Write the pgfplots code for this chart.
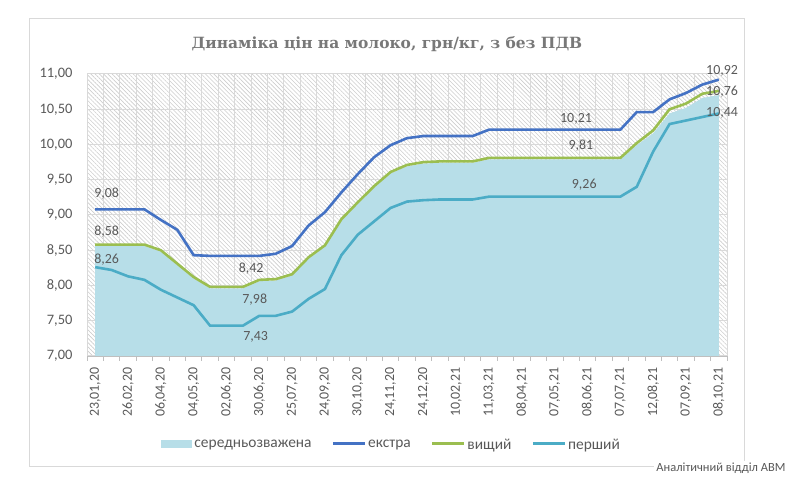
\documentclass[border=0pt]{standalone}
\usepackage{fontspec}
\setmainfont{Carlito}
\newfontfamily\titlefont{DejaVu Serif}
\usepackage{pgfplots}
\usepackage{pgfplotstable}
\pgfplotsset{compat=1.18}
\usetikzlibrary{patterns.meta}

\definecolor{cExtra}{RGB}{68,114,196}
\definecolor{cVys}{RGB}{155,190,80}
\definecolor{cPer}{RGB}{75,172,198}
\definecolor{cArea}{RGB}{183,222,232}
\definecolor{cGrid}{RGB}{217,217,217}
\definecolor{cHatch}{RGB}{205,205,205}
\definecolor{cText}{RGB}{89,89,89}
\definecolor{cTitle}{RGB}{120,120,120}
\definecolor{cAxis}{RGB}{191,191,191}

\pgfplotsset{
  arealeg/.style={legend image code/.code={\fill[##1] (0bp,-3bp) rectangle (31bp,5bp);}},
  lineleg/.style={legend image code/.code={\draw[##1] (0bp,1bp) -- (32bp,1bp);}},
}

\pgfplotstableread{
i e v p a
0 9.08 8.58 8.26 8.56
1 9.08 8.58 8.22 8.56
2 9.08 8.58 8.13 8.56
3 9.08 8.58 8.08 8.56
4 8.93 8.50 7.94 8.48
5 8.79 8.31 7.83 8.29
6 8.43 8.12 7.72 8.10
7 8.42 7.98 7.43 7.96
8 8.42 7.98 7.43 7.96
9 8.42 7.98 7.43 7.96
10 8.42 8.08 7.57 8.06
11 8.45 8.09 7.57 8.07
12 8.56 8.16 7.63 8.14
13 8.85 8.40 7.81 8.38
14 9.04 8.57 7.95 8.55
15 9.32 8.94 8.43 8.92
16 9.58 9.18 8.72 9.16
17 9.82 9.41 8.91 9.39
18 9.99 9.61 9.10 9.59
19 10.09 9.71 9.19 9.69
20 10.12 9.75 9.21 9.73
21 10.12 9.76 9.22 9.74
22 10.12 9.76 9.22 9.74
23 10.12 9.76 9.22 9.74
24 10.21 9.81 9.26 9.79
25 10.21 9.81 9.26 9.79
26 10.21 9.81 9.26 9.79
27 10.21 9.81 9.26 9.79
28 10.21 9.81 9.26 9.79
29 10.21 9.81 9.26 9.79
30 10.21 9.81 9.26 9.79
31 10.21 9.81 9.26 9.79
32 10.21 9.81 9.26 9.79
33 10.46 10.02 9.40 9.99
34 10.46 10.20 9.90 10.16
35 10.64 10.50 10.29 10.44
36 10.73 10.58 10.34 10.52
37 10.85 10.72 10.39 10.66
38 10.92 10.76 10.44 10.70
}\data

\begin{document}
\begin{tikzpicture}[x=1bp,y=1bp]
\path[use as bounding box] (0,0) rectangle (800,488);
\draw[cGrid, line width=1bp] (29,21) rectangle (744,469);
\node[font=\titlefont\bfseries\fontsize{15.5}{18}\selectfont, text=cTitle] at (387,444) {Динаміка цін на молоко, грн/кг, з без ПДВ};
\begin{axis}[
  at={(87bp,132bp)}, anchor=south west,
  width=640bp, height=282bp, scale only axis,
  xmin=-0.5, xmax=38.5, ymin=7, ymax=11,
  clip mode=individual,
  axis x line=bottom, axis y line=left,
  x axis line style={-, draw=cAxis, line width=0.8bp},
  y axis line style={draw=none},
  xtick={0,2,...,38},
  xticklabels={{23,01,20},{26,02,20},{06,04,20},{04,05,20},{02,06,20},{30,06,20},{25,07,20},{24,09,20},{30,10,20},{24,11,20},{24,12,20},{10,02,21},{11,03,21},{08,04,21},{07,05,21},{08,06,21},{07,07,21},{12,08,21},{07,09,21},{08,10,21}},
  minor xtick={-0.5,0.5,...,38.5},
  ytick={7,7.5,...,11},
  major tick length=0pt, minor tick length=5bp, tick align=outside,
  every minor tick/.append style={draw=cAxis, line width=0.8bp},
  xminorgrids=true, ymajorgrids=true, xmajorgrids=false,
  minor grid style={draw=cGrid, line width=1bp},
  major grid style={draw=cGrid, line width=1bp},
  axis background/.style={pattern={Lines[angle=-45,distance=3bp,line width=0.6bp]}, pattern color=cHatch},
  xticklabel shift=8bp,
  xticklabel style={rotate=90, anchor=east, font=\fontsize{14}{16}\selectfont, text=cText},
  yticklabel style={xshift=-11bp, font=\fontsize{14.5}{16}\selectfont, text=cText, /pgf/number format/.cd, fixed, fixed zerofill, precision=2, use comma, assume math mode=true},
  legend style={at={(axis description cs:0.476,-0.314)}, anchor=center, draw=none, fill=none,
    font=\fontsize{15.5}{17}\selectfont, text=cText,
    /tikz/every even column/.append style={column sep=18bp}},
  legend columns=4,
  legend cell align=left,
]
\addplot[fill=cArea, draw=none, arealeg] table[x=i,y=a]{\data} \closedcycle;
\addlegendentry{середньозважена}
\addplot[cExtra, line width=2.6bp, lineleg] table[x=i,y=e]{\data};
\addlegendentry{екстра}
\addplot[cVys, line width=2.6bp, lineleg] table[x=i,y=v]{\data};
\addlegendentry{вищий}
\addplot[cPer, line width=2.6bp, lineleg] table[x=i,y=p]{\data};
\addlegendentry{перший}

\tikzset{lbl/.style={font=\fontsize{14}{16}\selectfont, text=cText, inner sep=0pt}}
\node[lbl] at (axis cs:0.7,9.31) {9,08};
\node[lbl] at (axis cs:0.7,8.76) {8,58};
\node[lbl] at (axis cs:0.7,8.36) {8,26};
\node[lbl] at (axis cs:9.5,8.24) {8,42};
\node[lbl] at (axis cs:9.72,7.80) {7,98};
\node[lbl] at (axis cs:9.78,7.27) {7,43};
\node[lbl] at (axis cs:29.3,10.37) {10,21};
\node[lbl] at (axis cs:29.6,9.98) {9,81};
\node[lbl] at (axis cs:29.8,9.43) {9,26};
\node[lbl] at (axis cs:38.2,11.05) {10,92};
\node[lbl] at (axis cs:38.2,10.75) {10,76};
\node[lbl] at (axis cs:38.2,10.45) {10,44};
\end{axis}
\node[fill=white, inner sep=2bp, font=\fontsize{12.5}{14}\selectfont, text=cText] at (721,20) {Аналітичний відділ АВМ};
\end{tikzpicture}
\end{document}
